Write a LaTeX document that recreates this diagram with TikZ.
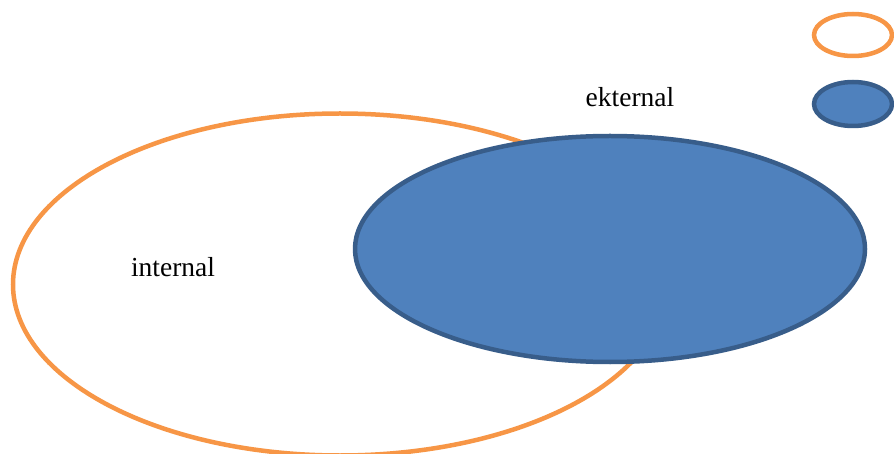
\documentclass[tikz,border=0pt]{standalone}
\usepackage{fontspec}
\setmainfont{Liberation Serif}
\usetikzlibrary{shapes.geometric}
\definecolor{orangeline}{HTML}{F79646}
\definecolor{bluefill}{HTML}{4F81BD}
\definecolor{blueline}{HTML}{385D8A}
\tikzset{
  orangeell/.style={ellipse, draw=orangeline, line width=4.5pt, fill=white, inner sep=0pt},
  blueell/.style={ellipse, draw=blueline, line width=4.5pt, fill=bluefill, inner sep=0pt},
  lbl/.style={font=\fontsize{27.5}{33}\selectfont, anchor=base, inner sep=0pt}
}
\begin{document}
\begin{tikzpicture}[x=1pt,y=-1pt]
\useasboundingbox (0,0) rectangle (894,454);
\clip (0,0) rectangle (894,454);
\node[orangeell, minimum width=654pt, minimum height=342pt] (int) at (340,284.5) {};
\node[blueell, minimum width=510pt, minimum height=226pt] (ext) at (610,249) {};
\node[orangeell, minimum width=78pt, minimum height=42pt] (leg1) at (853,35) {};
\node[blueell, minimum width=78pt, minimum height=44pt] (leg2) at (853,104) {};
\node[lbl] (tint) at (173,277) {internal};
\node[lbl] (text) at (630,107) {ekternal};
\end{tikzpicture}
\end{document}
